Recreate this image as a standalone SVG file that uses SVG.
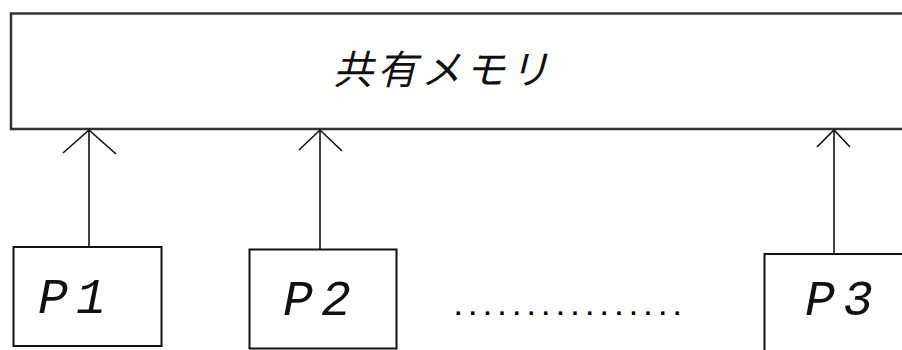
<svg xmlns="http://www.w3.org/2000/svg" width="902" height="350" viewBox="0 0 902 350">
<style>
.box{fill:#fff;stroke:#111;stroke-width:2}
.main{fill:#fff;stroke:#333;stroke-width:2.5}
.con{stroke:#111;stroke-width:1.6;fill:none}
.lbl{font-family:"Liberation Mono","DejaVu Sans Mono",monospace;font-style:italic;font-size:50px;fill:#111;letter-spacing:8px}
.jp{font-family:"Noto Sans CJK JP","Noto Sans CJK SC",sans-serif;font-style:italic;font-size:40px;fill:#111;letter-spacing:4px}
.dots{font-family:"Liberation Mono",monospace;font-size:24px;font-weight:bold;fill:#000;letter-spacing:0.2px}
</style>
<rect width="902" height="350" fill="#fff"/>
<g id="shared-memory">
<rect class="main" x="11" y="13.5" width="900" height="115.5"/>
<text class="jp" x="333" y="84">共有メモリ</text>
</g>
<g id="p1">
<rect class="box" x="13.5" y="247" width="148" height="99"/>
<text class="lbl" x="38" y="313">P1</text>
</g>
<g id="p2">
<rect class="box" x="249.5" y="249.5" width="147" height="99"/>
<text class="lbl" x="283" y="315">P2</text>
</g>
<g id="p3">
<rect class="box" x="764.5" y="254" width="150" height="100"/>
<text class="lbl" x="805" y="315">P3</text>
</g>
<g id="ellipsis">
<text class="dots" x="451" y="315">................</text>
</g>
<g id="connectors">
<path class="con" d="M89 247V130M63 153L89 130L116 154"/>
<path class="con" d="M320 249V130M299 150L320 130L342 151"/>
<path class="con" d="M834 254V130M817 147L834 130L850 147"/>
</g>
</svg>
